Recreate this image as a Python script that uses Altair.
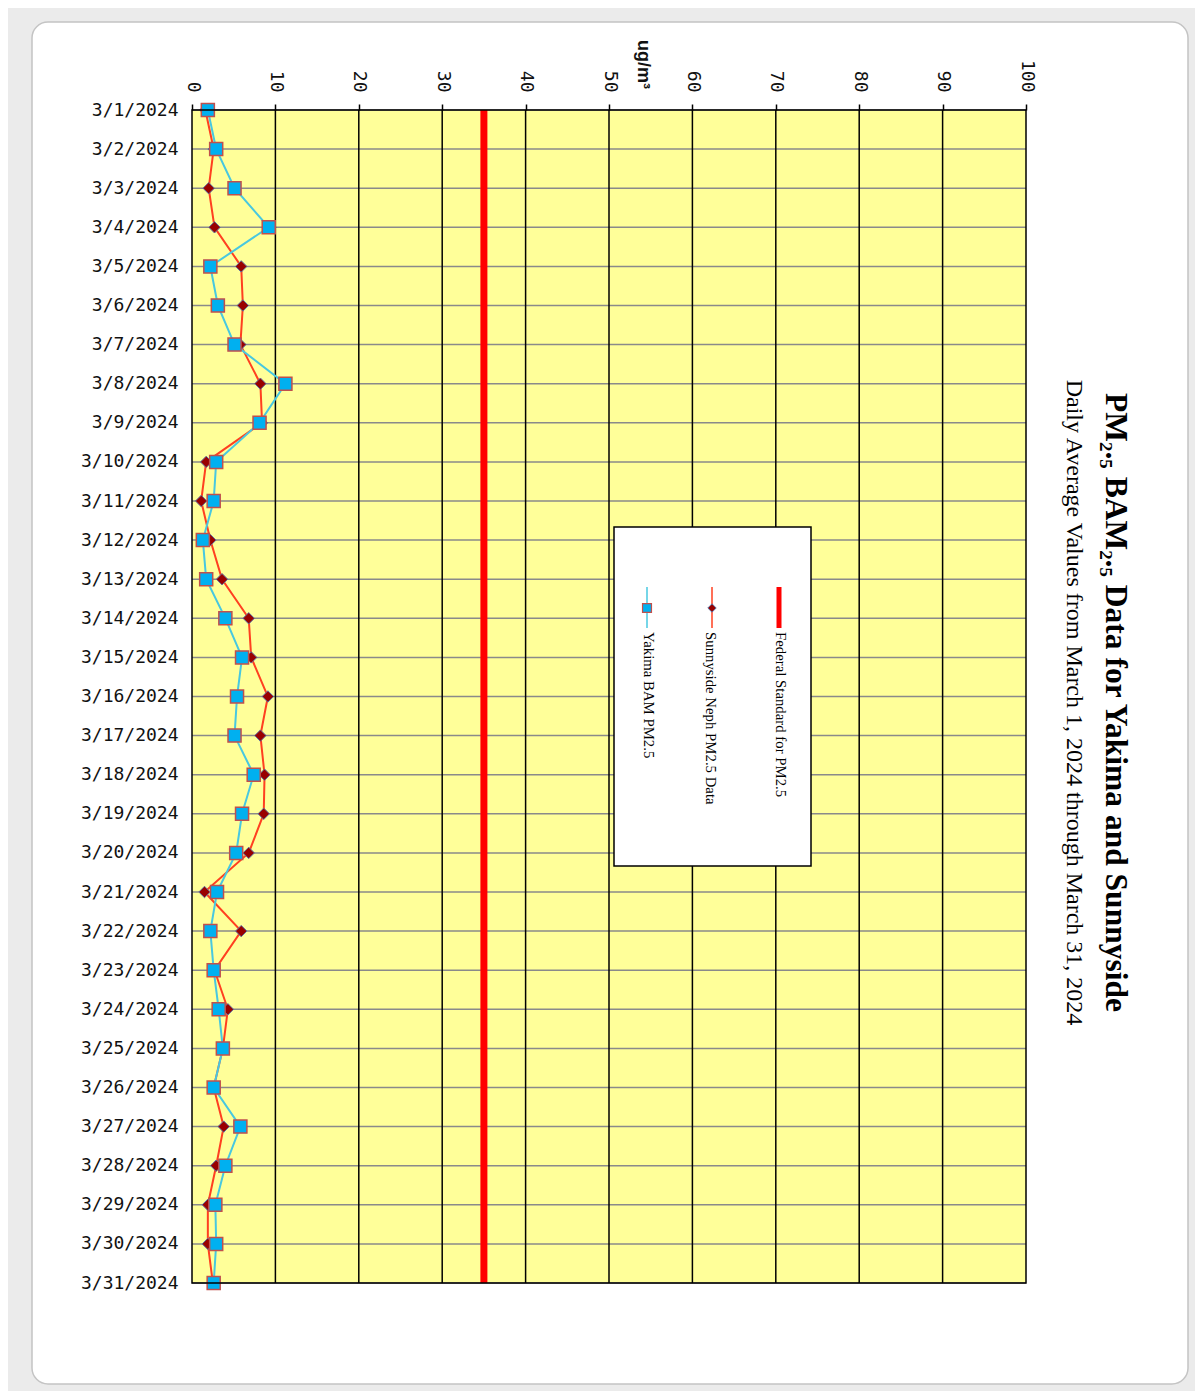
import altair as alt
import pandas as pd

dates = ["3/1/2024", "3/2/2024", "3/3/2024", "3/4/2024", "3/5/2024", "3/6/2024",
         "3/7/2024", "3/8/2024", "3/9/2024", "3/10/2024", "3/11/2024", "3/12/2024",
         "3/13/2024", "3/14/2024", "3/15/2024", "3/16/2024", "3/17/2024", "3/18/2024",
         "3/19/2024", "3/20/2024", "3/21/2024", "3/22/2024", "3/23/2024", "3/24/2024",
         "3/25/2024", "3/26/2024", "3/27/2024", "3/28/2024", "3/29/2024", "3/30/2024",
         "3/31/2024"]
sunnyside = [1.6, 2.6, 2.0, 2.7, 5.9, 6.1, 5.8, 8.2, 8.4, 1.7, 1.1, 2.2, 3.6, 6.8, 7.1, 9.1,
             8.2, 8.7, 8.6, 6.8, 1.5, 5.9, 2.7, 4.3, 3.7, 2.6, 3.8, 2.9, 1.9, 1.9, 2.5]
yakima = [1.9, 2.9, 5.1, 9.2, 2.2, 3.1, 5.1, 11.2, 8.1, 2.9, 2.6, 1.3, 1.7, 4.0, 6.0, 5.4,
          5.1, 7.4, 6.0, 5.3, 3.0, 2.2, 2.6, 3.2, 3.7, 2.6, 5.8, 4.0, 2.8, 2.9, 2.6]
federal_standard = 35
x_ticks = [0, 10, 20, 30, 40, 50, 60, 70, 80, 90, 100]
inner_x_ticks = [10, 20, 30, 40, 50, 60, 70, 80, 90]
legend_labels = ["Federal Standard for PM2.5", "Sunnyside Neph PM2.5 Data", "Yakima BAM PM2.5"]
title_text = "PM₂.₅ BAM₂.₅ Data for Yakima and Sunnyside"
subtitle_text = "Daily Average Values from March 1, 2024 through March 31, 2024"

df = pd.DataFrame({"date": dates, "sunnyside": sunnyside, "yakima": yakima})
ticks_df = pd.DataFrame({"v": inner_x_ticks})
one = pd.DataFrame({"k": [0]})

W, H = 834, 1173
LABEL_FONT = "DejaVu Sans Mono"

x_scale = alt.Scale(domain=[0, 100], nice=False)
y_scale = alt.Scale(type="point", domain=dates, padding=0)

x_axis = alt.Axis(orient="top", values=x_ticks, labelAngle=90, labelAlign="right",
                  labelBaseline="middle", labelFont=LABEL_FONT, labelFontSize=18,
                  labelColor="#111111", labelPadding=12, ticks=True, tickSize=6,
                  tickColor="black", tickWidth=1.5, domain=False, grid=False,
                  title="ug/m³", titleAngle=90, titleFont="Liberation Sans",
                  titleFontSize=18, titleFontWeight="bold", titleColor="#111111",
                  titleX=450, titleY=-46, titleAlign="center", titleBaseline="middle",
                  zindex=1)
y_axis = alt.Axis(orient="left", labelFont=LABEL_FONT, labelFontSize=18,
                  labelColor="#111111", labelPadding=14, ticks=False, domain=False,
                  grid=False, title=None, labelOverlap=False, zindex=1)


def X(field):
    return alt.X(field, type="quantitative", scale=x_scale, axis=x_axis)


def XD(v):
    return alt.XDatum(v, type="quantitative", scale=x_scale, axis=x_axis)


def YD(v):
    return alt.YDatum(v, type="ordinal", scale=y_scale, axis=y_axis)


Yf = alt.Y("date:O", scale=y_scale, axis=y_axis, sort=dates)

# page (decorative white sheet)
page = alt.Chart(one).mark_rect(fill="white", stroke="#c4c4c4", strokeWidth=1.5,
                                cornerRadius=16).encode(
    x=alt.value(-160), x2=alt.value(996), y=alt.value(-88), y2=alt.value(1274))

plot_bg = alt.Chart(one).mark_rect(fill="#FFFF99").encode(
    x=XD(0), x2=alt.X2Datum(100), y=YD(dates[0]), y2=alt.Y2Datum(dates[-1]))

hgrid = alt.Chart(df).mark_rule(color="#8a8a8a", strokeWidth=1.5).encode(
    x=XD(0), x2=alt.X2Datum(100), y=Yf)

vgrid = alt.Chart(ticks_df).mark_rule(color="black", strokeWidth=1.5).encode(
    x=X("v"), y=YD(dates[0]), y2=alt.Y2Datum(dates[-1]))

fed = alt.Chart(one).mark_rule(color="#FF0000", strokeWidth=7).encode(
    x=XD(federal_standard), y=YD(dates[0]), y2=alt.Y2Datum(dates[-1]))

sun_line = alt.Chart(df).mark_line(color="#FF4020", strokeWidth=2).encode(
    x=X("sunnyside"), y=Yf)
sun_pts = alt.Chart(df).mark_point(shape="diamond", filled=True, fill="#990000",
                                   stroke="#6070a0", strokeWidth=1, size=130,
                                   opacity=1).encode(x=X("sunnyside"), y=Yf)

yak_line = alt.Chart(df).mark_line(color="#48C8E0", strokeWidth=2).encode(
    x=X("yakima"), y=Yf)
yak_pts = alt.Chart(df).mark_point(shape="square", filled=True, fill="#00B0F0",
                                   stroke="#C0504D", strokeWidth=1.5, size=170,
                                   opacity=1).encode(x=X("yakima"), y=Yf)

border = alt.Chart(one).mark_rect(fill=None, stroke="black", strokeWidth=1.5).encode(
    x=XD(0), x2=alt.X2Datum(100), y=YD(dates[0]), y2=alt.Y2Datum(dates[-1]))

# legend (rotated, drawn manually)
leg_box = alt.Chart(one).mark_rect(fill="white", stroke="black", strokeWidth=1.5).encode(
    x=alt.value(422), x2=alt.value(619), y=alt.value(417), y2=alt.value(756))
leg_fed = alt.Chart(one).mark_rule(color="#FF0000", strokeWidth=5).encode(
    x=alt.value(587), y=alt.value(477), y2=alt.value(518))
leg_sun = alt.Chart(one).mark_rule(color="#FF4020", strokeWidth=1.5).encode(
    x=alt.value(520), y=alt.value(477), y2=alt.value(518))
leg_sun_pt = alt.Chart(one).mark_point(shape="diamond", filled=True, fill="#990000",
                                       stroke="#6070a0", strokeWidth=1, size=70,
                                       opacity=1).encode(
    x=alt.value(520), y=alt.value(498))
leg_yak = alt.Chart(one).mark_rule(color="#48C8E0", strokeWidth=1.5).encode(
    x=alt.value(455), y=alt.value(477), y2=alt.value(518))
leg_yak_pt = alt.Chart(one).mark_point(shape="square", filled=True, fill="#00B0F0",
                                       stroke="#C0504D", strokeWidth=1.2, size=80,
                                       opacity=1).encode(
    x=alt.value(455), y=alt.value(498))

leg_texts = []
for label, xpos in zip(legend_labels, [588, 518, 456]):
    leg_texts.append(
        alt.Chart(one).mark_text(text=label, angle=90, align="left", baseline="middle",
                                 font="Liberation Serif", fontSize=14.8, color="black").encode(
            x=alt.value(xpos), y=alt.value(522)))

# rotated title and subtitle
title_mark = alt.Chart(one).mark_text(
    text=title_text, angle=90, align="center", baseline="middle",
    font="Liberation Serif", fontSize=31.5, fontWeight="bold", color="black").encode(
    x=alt.value(923), y=alt.value(H / 2 + 6))
subtitle_mark = alt.Chart(one).mark_text(
    text=subtitle_text, angle=90, align="center", baseline="middle",
    font="Liberation Serif", fontSize=24, color="black").encode(
    x=alt.value(882), y=alt.value(H / 2 + 6))

chart = alt.layer(
    page, plot_bg, hgrid, vgrid, fed, sun_line, sun_pts, yak_line, yak_pts, border,
    leg_box, leg_fed, leg_sun, leg_sun_pt, leg_yak, leg_yak_pt, *leg_texts,
    title_mark, subtitle_mark
).properties(
    width=W, height=H,
    autosize=alt.AutoSizeParams(type="none"),
    padding={"left": 184, "top": 102, "right": 169, "bottom": 108},
    background="#ebebeb",
).configure_view(stroke=None)

chart.save("out.html", embed_options={"renderer": "svg", "actions": False})
